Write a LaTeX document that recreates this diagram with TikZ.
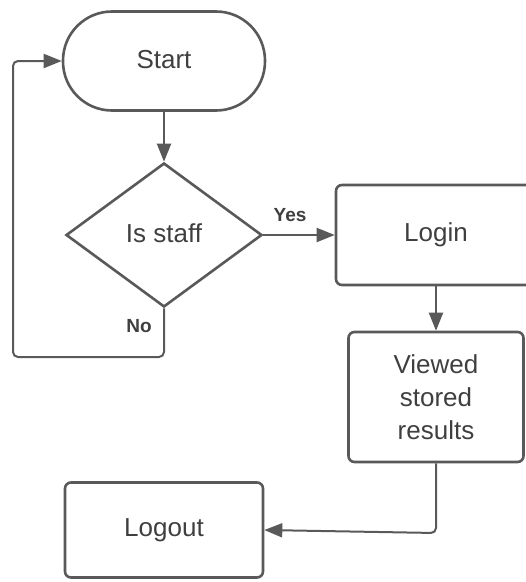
\documentclass[tikz,border=0pt]{standalone}
\usepackage{fontspec}
\setmainfont{Liberation Sans}
\usetikzlibrary{shapes.geometric,arrows.meta}
\definecolor{edgegray}{HTML}{595959}
\definecolor{textgray}{HTML}{3F3F3F}
\tikzset{
  base/.style={draw=edgegray, line width=2.6pt, text=textgray, font=\fontsize{26}{33}\selectfont, inner sep=0pt, align=center},
  terminal/.style={base, rectangle, rounded corners=49pt, minimum width=202pt, minimum height=99pt},
  decision/.style={base, diamond, minimum width=196pt, minimum height=144pt},
  process/.style={base, rectangle, rounded corners=6pt},
  conn/.style={draw=edgegray, line width=2pt, -{Triangle[length=18pt,width=14pt]}},
  lbl/.style={text=textgray, font=\fontsize{19}{22}\bfseries\selectfont, inner sep=0pt}
}
\begin{document}
\begin{tikzpicture}[x=1pt,y=-1pt]
\useasboundingbox (0,0) rectangle (526,582);
\clip (0,0) rectangle (526,582);
\node[terminal] (start) at (164,61) {\raisebox{3pt}{Start}};
\node[decision] (staff) at (164,235) {\raisebox{3pt}{Is staff}};
\node[process, minimum width=200pt, minimum height=100pt] (login) at (436,235) {\raisebox{3pt}{Login}};
\node[process, minimum width=175pt, minimum height=130pt] (viewed) at (436,397) {Viewed\\stored\\results};
\node[process, minimum width=198pt, minimum height=95pt] (logout) at (164,530) {Logout};
\coordinate (nob) at (164,357);
\coordinate (noleft) at (13,357);
\coordinate (notop) at (13,61);
\coordinate (vb) at (436,533);
\draw[conn] (start) -- (staff);
\draw[conn] (staff.east) -- (login.west);
\draw[conn, rounded corners=5pt] (staff.south) -- (nob) -- (noleft) -- (notop) -- (start.west);
\draw[conn] (login) -- (viewed);
\draw[conn, rounded corners=5pt] (viewed.south) -- (vb) -- (logout.east);
\node[lbl] (yes) at (290,215) {Yes};
\node[lbl] (no) at (139,326) {No};
\end{tikzpicture}
\end{document}
